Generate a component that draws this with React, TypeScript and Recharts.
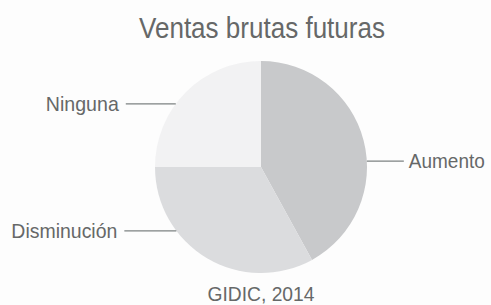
import { PieChart, Pie, Cell } from "recharts";

const categories = ["Aumento", "Disminución", "Ninguna"];
const shares = [42, 33, 25];
const colors = ["#c8c9cb", "#dbdcde", "#f2f2f3"];

const data = categories.map((name, i) => ({ name, value: shares[i] }));

// where each label leader leaves the rim (degrees, recharts convention) and its text size
const labelLayout: Record<string, { angle: number; len: number; width: number; size: number }> = {
  Aumento: { angle: 3.2, len: 37, width: 76, size: 19.5 },
  Disminución: { angle: 217, len: 52, width: 106, size: 21 },
  Ninguna: { angle: 143.5, len: 50, width: 73, size: 21 },
};

const textColor = "#666868";
const font = "'Liberation Sans', Arial, sans-serif";

function renderLabel(props: any) {
  const { cx, cy, outerRadius, name } = props;
  const l = labelLayout[name];
  if (!l) return null;
  const rad = (l.angle * Math.PI) / 180;
  const x0 = cx + outerRadius * Math.cos(rad);
  const y0 = cy - outerRadius * Math.sin(rad);
  const right = Math.cos(rad) > 0;
  const x1 = right ? x0 + l.len : x0 - l.len;
  const tx = right ? x1 + 5 : x1 - 7;
  return (
    <g key={name}>
      <line x1={x0} y1={y0} x2={x1} y2={y0} stroke="#7c8282" strokeWidth={1.3} />
      <text
        x={tx}
        y={y0 + 7}
        textAnchor={right ? "start" : "end"}
        fontFamily={font}
        fontSize={l.size}
        fill={textColor}
        textLength={l.width}
        lengthAdjust="spacingAndGlyphs"
      >
        {name}
      </text>
    </g>
  );
}

export default function App() {
  return (
    <div
      style={{
        position: "absolute",
        left: 0,
        top: 0,
        width: 491,
        height: 305,
        background: "#fdfdfd",
      }}
    >
      <PieChart width={491} height={305} margin={{ top: 0, right: 0, left: 0, bottom: 0 }}>
        <Pie
          data={data}
          dataKey="value"
          nameKey="name"
          cx={261}
          cy={167}
          outerRadius={106}
          startAngle={90}
          endAngle={-270}
          stroke="none"
          label={renderLabel}
          labelLine={false}
          isAnimationActive={false}
        >
          {data.map((d, i) => (
            <Cell key={d.name} fill={colors[i]} />
          ))}
        </Pie>
      </PieChart>
      <svg
        width={491}
        height={305}
        style={{ position: "absolute", left: 0, top: 0, pointerEvents: "none" }}
      >
        <text
          x={262}
          y={38}
          textAnchor="middle"
          fontFamily={font}
          fontSize={29}
          fill={textColor}
          textLength={246}
          lengthAdjust="spacingAndGlyphs"
        >
          Ventas brutas futuras
        </text>
        <text
          x={261}
          y={301}
          textAnchor="middle"
          fontFamily={font}
          fontSize={21}
          fill={textColor}
          textLength={107}
          lengthAdjust="spacingAndGlyphs"
        >
          GIDIC, 2014
        </text>
      </svg>
    </div>
  );
}
